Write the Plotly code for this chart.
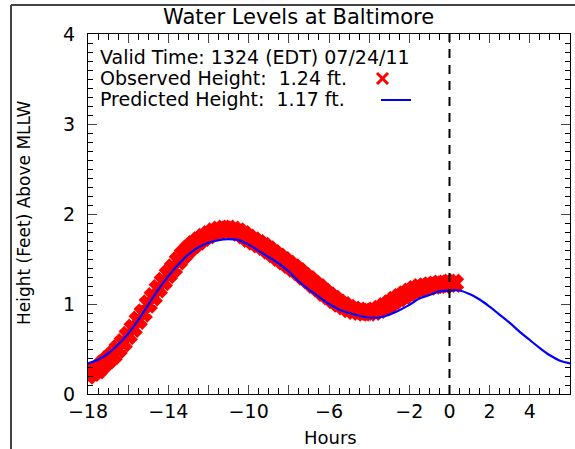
import plotly.graph_objects as go

# ---------------- data ----------------
pred_hours = [-18 + 0.5 * i for i in range(49)]
pred_height = [0.34, 0.38, 0.45, 0.55, 0.67, 0.82, 0.99, 1.16, 1.31, 1.44,
               1.55, 1.63, 1.68, 1.71, 1.72, 1.71, 1.66, 1.59, 1.52, 1.45,
               1.36, 1.25, 1.16, 1.08, 1.00, 0.94, 0.90, 0.87, 0.85, 0.85,
               0.88, 0.93, 0.99, 1.06, 1.10, 1.14, 1.15, 1.15, 1.11, 1.05,
               0.97, 0.88, 0.79, 0.69, 0.60, 0.51, 0.43, 0.37, 0.34]

obs_hours = [-18 + 0.25 * i for i in range(74)]
obs_height = [0.21, 0.24, 0.27, 0.33, 0.38, 0.43, 0.50, 0.57, 0.65, 0.73,
              0.82, 0.90, 1.00, 1.08, 1.17, 1.25, 1.33, 1.40, 1.48, 1.55,
              1.61, 1.66, 1.70, 1.74, 1.77, 1.80, 1.82, 1.83, 1.83, 1.82,
              1.80, 1.77, 1.73, 1.70, 1.67, 1.64, 1.60, 1.56, 1.52, 1.48,
              1.44, 1.40, 1.36, 1.31, 1.27, 1.22, 1.18, 1.13, 1.09, 1.05,
              1.01, 0.98, 0.95, 0.93, 0.92, 0.91, 0.91, 0.92, 0.94, 0.97,
              1.00, 1.04, 1.07, 1.10, 1.13, 1.16, 1.18, 1.19, 1.20, 1.21,
              1.22, 1.22, 1.23, 1.23]

now_hour = 0
x_range = [-18, 6]
y_range = [0, 4]
x_major_step, x_minor_step = 2, 0.5
y_major_step, y_minor_step = 1, 0.1
hidden_x_labels = {"\u221216": "", "\u221212": "", "\u22128": "", "\u22124": ""}

title_text = "Water Levels at Baltimore"
info_lines = ["Valid Time: 1324 (EDT) 07/24/11",
              "Observed Height:  1.24 ft.",
              "Predicted Height:  1.17 ft."]

# ---------------- layout geometry (pixels) ----------------
W, H = 575, 449
L, R, T, B = 88, 570, 34, 394
FONT = "DejaVu Sans"


def px(x):
    return (x - L) / (R - L)


def py(y):
    return (B - y) / (B - T)


fig = go.Figure()
fig.add_trace(go.Scatter(
    x=obs_hours, y=obs_height, mode="markers",
    marker=dict(symbol="x", size=14, color="#ff0000",
                line=dict(width=2.5, color="#ff0000")),
    showlegend=False, hoverinfo="skip"))
fig.add_trace(go.Scatter(
    x=pred_hours, y=pred_height, mode="lines",
    line=dict(color="#0000ff", width=2.2, shape="spline"),
    showlegend=False, hoverinfo="skip"))

fig.update_xaxes(range=x_range, dtick=x_major_step, ticks="inside", ticklen=9,
                 showline=True, linecolor="black",
                 mirror="ticks",
                 labelalias=hidden_x_labels,
                 tickfont=dict(family=FONT, size=19, color="black"),
                 minor=dict(ticks="inside", ticklen=6, tickcolor="black",
                            dtick=x_minor_step))
fig.update_yaxes(range=y_range, dtick=y_major_step, ticks="inside", ticklen=9,
                 showline=True, linecolor="black",
                 mirror="ticks",
                 ticklabelstandoff=8,
                 tickfont=dict(family=FONT, size=19, color="black"),
                 minor=dict(ticks="inside", ticklen=5, tickcolor="black",
                            dtick=y_minor_step))

shapes = [
    dict(type="line", xref="x", yref="y", x0=now_hour, x1=now_hour,
         y0=y_range[0], y1=y_range[1],
         line=dict(color="black", width=2, dash="9px,7px")),
    dict(type="line", xref="paper", yref="paper", x0=px(11), x1=px(600),
         y0=py(5), y1=py(5), line=dict(color="#444444", width=2)),
    dict(type="line", xref="paper", yref="paper", x0=px(11), x1=px(11),
         y0=py(5), y1=py(470), line=dict(color="#444444", width=2)),
    dict(type="line", xref="paper", yref="paper", x0=px(377), x1=px(388),
         y0=py(73), y1=py(84), line=dict(color="#ff0000", width=3)),
    dict(type="line", xref="paper", yref="paper", x0=px(377), x1=px(388),
         y0=py(84), y1=py(73), line=dict(color="#ff0000", width=3)),
    dict(type="line", xref="paper", yref="paper", x0=px(381), x1=px(411),
         y0=py(100), y1=py(100), line=dict(color="#0000ff", width=2)),
]

annotations = [
    dict(text=title_text, xref="paper", yref="paper", x=px(298), y=py(17),
         xanchor="center", yanchor="middle", showarrow=False,
         font=dict(family=FONT, size=21, color="black")),
    dict(text="Hours", xref="paper", yref="paper", x=px(330), y=py(437),
         xanchor="center", yanchor="middle", showarrow=False,
         font=dict(family=FONT, size=18, color="black")),
    dict(text="Height (Feet) Above MLLW", xref="paper", yref="paper",
         x=px(24), y=py(213), xanchor="center", yanchor="middle",
         textangle=-90, showarrow=False,
         font=dict(family=FONT, size=17, color="black")),
]
for i, line in enumerate(info_lines):
    annotations.append(dict(text=line, xref="paper", yref="paper",
                            x=px(98), y=py(57 + 21 * i), xanchor="left",
                            yanchor="middle", showarrow=False,
                            font=dict(family=FONT, size=19, color="black")))

fig.update_layout(width=W, height=H,
                  margin=dict(l=L, r=W - R, t=T, b=H - B),
                  plot_bgcolor="white",
                  shapes=shapes, annotations=annotations)

fig.write_html("out.html")
